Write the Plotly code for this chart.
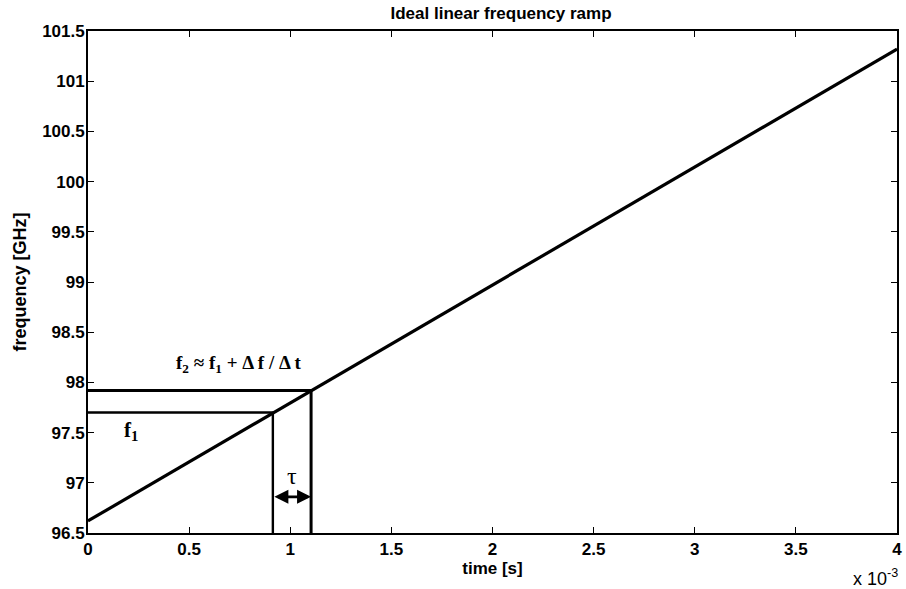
import plotly.graph_objects as go

# Ideal linear ramp (time in units of 1e-3 s, frequency in GHz)
ramp_t = [0.0, 4.0]
ramp_f = [96.62, 101.32]

# Two sampled points on the ramp
t1, f1 = 0.914, 97.70
t2, f2 = 1.103, 97.92

x_ticks = [0, 0.5, 1, 1.5, 2, 2.5, 3, 3.5, 4]
x_tick_labels = ["0", "0.5", "1", "1.5", "2", "2.5", "3", "3.5", "4"]
y_ticks = [96.5, 97, 97.5, 98, 98.5, 99, 99.5, 100, 100.5, 101, 101.5]
y_tick_labels = ["96.5", "97", "97.5", "98", "98.5", "99", "99.5", "100", "100.5", "101", "101.5"]

X_MIN, X_MAX = 0, 4
Y_MIN, Y_MAX = 96.5, 101.5

SANS = "Liberation Sans"
SERIF = "Liberation Serif"

fig = go.Figure()

fig.add_trace(go.Scatter(x=ramp_t, y=ramp_f, mode="lines",
                         line=dict(color="black", width=3.2), showlegend=False))

# Construction lines for f1 and f2
for (tp, fp, w) in [(t1, f1, 2.4), (t2, f2, 3)]:
    fig.add_trace(go.Scatter(x=[X_MIN, tp, tp], y=[fp, fp, Y_MIN], mode="lines",
                             line=dict(color="black", width=w), showlegend=False))

fig.add_annotation(x=0.745, y=98.18,
                   text="<b>f<sub>2</sub> \u2248 f<sub>1</sub> + \u0394 f / \u0394 t</b>",
                   showarrow=False, font=dict(family=SERIF, size=19, color="black"))
fig.add_annotation(x=0.214, y=97.52, text="<b>f<sub>1</sub></b>", showarrow=False,
                   font=dict(family=SERIF, size=21, color="black"))
fig.add_annotation(x=(t1 + t2) / 2, y=97.07, text="\u03c4", showarrow=False,
                   font=dict(family=SERIF, size=24, color="black"))

# Double-headed arrow marking tau
fig.add_annotation(x=t2, y=96.86, ax=t1, ay=96.86, axref="x", ayref="y", xref="x", yref="y",
                   text="", showarrow=True, arrowhead=2, startarrowhead=2,
                   arrowside="end+start", arrowsize=1, arrowwidth=2.8, arrowcolor="black",
                   standoff=0, startstandoff=0)

fig.add_annotation(x=1.004, xref="paper", y=-0.088, yref="paper", xanchor="right", yanchor="middle",
                   text="x 10<sup>-3</sup>", showarrow=False,
                   font=dict(family=SANS, size=18, color="black"))

fig.update_layout(
    width=906, height=589,
    margin=dict(l=88, r=4, t=31, b=56),
    paper_bgcolor="white", plot_bgcolor="white",
    title=dict(text="<b>Ideal linear frequency ramp</b>", x=0.553, xanchor="center",
               y=0.988, yanchor="top",
               font=dict(family=SANS, size=17, color="black")),
    font=dict(family=SANS, color="black"),
)

axis_common = dict(showgrid=False, zeroline=False, showline=True, linecolor="black", linewidth=1.8,
                   mirror="ticks", ticks="inside", ticklen=6, tickwidth=1.3, tickcolor="black",
                   tickfont=dict(family=SANS, size=17, color="black", weight="bold"))

fig.update_xaxes(range=[X_MIN, X_MAX], tickvals=x_ticks, ticktext=x_tick_labels,
                 title=dict(text="<b>time [s]</b>", font=dict(size=17), standoff=0), **axis_common)
fig.update_yaxes(range=[Y_MIN, Y_MAX], tickvals=y_ticks, ticktext=y_tick_labels,
                 ticklabelstandoff=-2,
                 title=dict(text="<b>frequency [GHz]</b>", font=dict(size=18), standoff=11),
                 **axis_common)

fig.write_html("out.html")
